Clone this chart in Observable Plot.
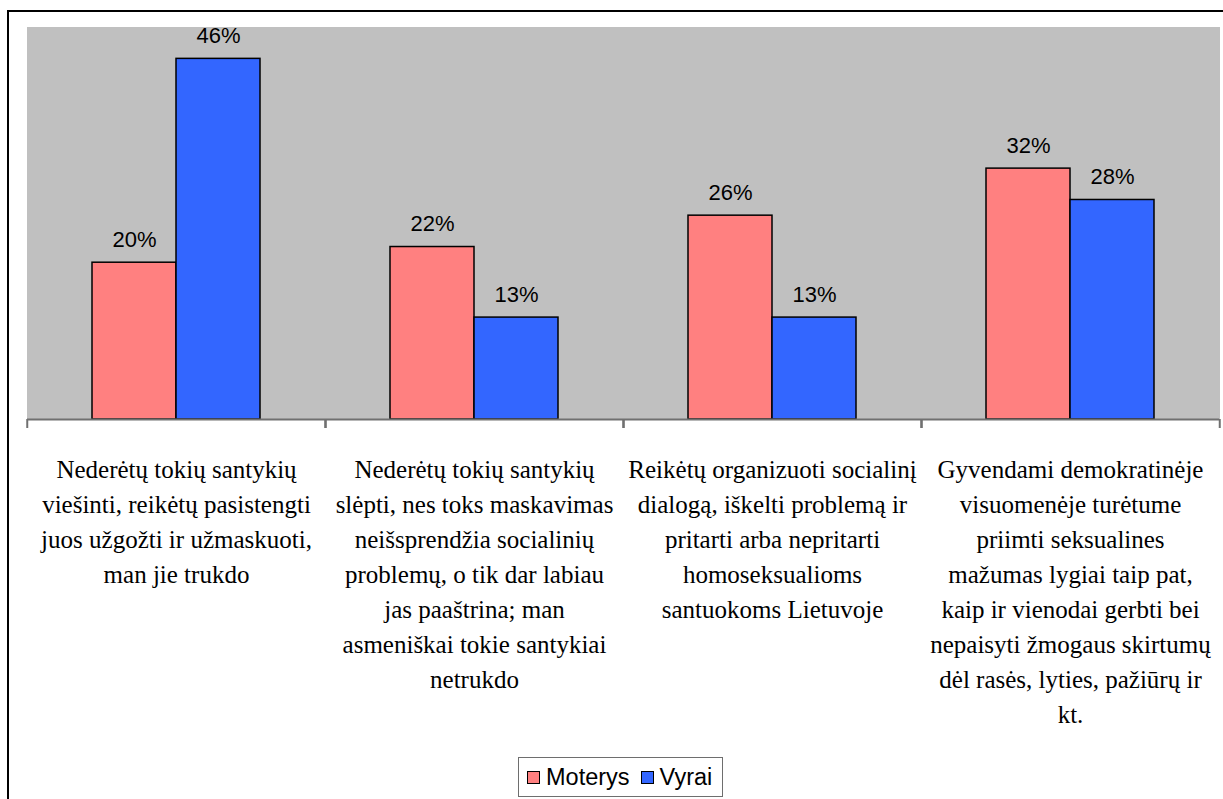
<!DOCTYPE html>
<html>
<head>
<meta charset="utf-8">
<script src="https://cdn.jsdelivr.net/npm/d3@7"></script>
<script src="https://cdn.jsdelivr.net/npm/@observablehq/plot@0.6"></script>
<style>
  html, body { margin: 0; padding: 0; background: #fff; overflow: hidden; width: 1223px; height: 799px; }
  #outer { position: absolute; left: 7px; top: 10px; width: 1300px; height: 900px; border-left: 2px solid #000; border-top: 2px solid #000; }
  #chart { position: absolute; left: 0; top: 0; }
  #legend { position: absolute; left: 518px; top: 757px; width: 205px; height: 40px; border: 1px solid #6e6e6e; background: #fff;
            font-family: "Liberation Sans", Arial, sans-serif; font-size: 23.5px; display: flex; align-items: center; box-sizing: border-box; padding-left: 8px; }
  .sw { display: inline-block; width: 11px; height: 11px; border: 1.5px solid #000; margin-right: 6px; }
  .item { display: flex; align-items: center; margin-right: 11px; }
</style>
</head>
<body>
<div id="outer"></div>
<div id="chart"></div>
<div id="legend"></div>
<script>
const categories = [
  "Nederėtų tokių santykių\nviešinti, reikėtų pasistengti\njuos užgožti ir užmaskuoti,\nman jie trukdo",
  "Nederėtų tokių santykių\nslėpti, nes toks maskavimas\nneišsprendžia socialinių\nproblemų, o tik dar labiau\njas paaštrina; man\nasmeniškai tokie santykiai\nnetrukdo",
  "Reikėtų organizuoti socialinį\ndialogą, iškelti problemą ir\npritarti arba nepritarti\nhomoseksualioms\nsantuokoms Lietuvoje",
  "Gyvendami demokratinėje\nvisuomenėje turėtume\npriimti seksualines\nmažumas lygiai taip pat,\nkaip ir vienodai gerbti bei\nnepaisyti žmogaus skirtumų\ndėl rasės, lyties, pažiūrų ir\nkt."
];
const seriesNames = ["Moterys", "Vyrai"];
const moterys = [20, 22, 26, 32];
const vyrai = [46, 13, 13, 28];
const colors = ["#FF8080", "#3366FF"];

const data = [];
categories.forEach((c, i) => {
  data.push({cat: c, series: seriesNames[0], value: moterys[i]});
  data.push({cat: c, series: seriesNames[1], value: vyrai[i]});
});

const W = 1223, H = 752;
const mT = 27, mB = 333, mL = 26, mR = 3;
const bandW = (W - mL - mR) / categories.length;

const chart = Plot.plot({
  width: W,
  height: H,
  marginTop: mT,
  marginBottom: mB,
  marginLeft: mL,
  marginRight: mR,
  style: {background: "transparent", overflow: "visible", fontFamily: "Liberation Sans, Arial, sans-serif"},
  fx: {domain: categories, paddingInner: 0, paddingOuter: 0, label: null},
  x: {domain: seriesNames, paddingInner: 0, paddingOuter: 0.756, axis: null},
  y: {domain: [0, 50], axis: null},
  color: {domain: seriesNames, range: colors},
  marks: [
    Plot.frame({fill: "#C0C0C0", stroke: "#C0C0C0", strokeWidth: 1.5, shapeRendering: "crispEdges"}),
    Plot.barY(data, {fx: "cat", x: "series", y: "value", fill: "series", stroke: "#000", strokeWidth: 1.5}),
    Plot.ruleY([0], {stroke: "#707070", strokeWidth: 2}),
    Plot.axisFx({anchor: "bottom", text: null, tickSize: 9, dx: -bandW / 2, stroke: "#707070", strokeWidth: 2, label: null}),
    Plot.axisFx({anchor: "bottom", text: null, tickSize: 9, dx: bandW / 2, stroke: "#707070", strokeWidth: 2, label: null}),
    Plot.text(data, {fx: "cat", x: "series", y: "value", text: d => d.value + "%", dy: -23, lineAnchor: "middle",
      fontSize: 22, fontFamily: "Liberation Sans, Arial, sans-serif", fill: "#000"}),
    Plot.axisFx({anchor: "bottom", tickSize: 0, tickPadding: 34, fontSize: 25, lineHeight: 1.4,
      fontFamily: "Liberation Serif, Times New Roman, serif", fill: "#000", label: null})
  ]
});
document.getElementById("chart").appendChild(chart);

const legend = document.getElementById("legend");
seriesNames.forEach((s, i) => {
  const item = document.createElement("span");
  item.className = "item";
  const sw = document.createElement("span");
  sw.className = "sw";
  sw.style.background = colors[i];
  item.appendChild(sw);
  item.appendChild(document.createTextNode(s));
  legend.appendChild(item);
});
</script>
</body>
</html>
